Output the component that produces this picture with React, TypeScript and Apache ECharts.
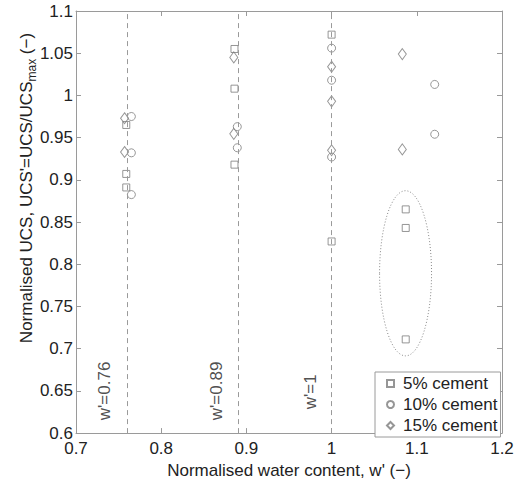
import React, { useEffect, useRef } from "react";
import * as echarts from "echarts";

// 5% cement (squares)
const cement5X = [0.759, 0.759, 0.759, 0.886, 0.886, 0.886, 1.0, 1.0, 1.087, 1.087, 1.087];
const cement5Y = [0.965, 0.907, 0.891, 1.055, 1.008, 0.918, 1.072, 0.827, 0.865, 0.843, 0.711];
// 10% cement (circles)
const cement10X = [0.765, 0.765, 0.765, 0.8893, 0.8893, 1.0, 1.0, 1.0, 1.121, 1.121];
const cement10Y = [0.975, 0.932, 0.8825, 0.963, 0.938, 1.056, 1.018, 0.927, 1.013, 0.954];
// 15% cement (diamonds)
const cement15X = [0.757, 0.757, 0.8852, 0.8852, 1.0, 1.0, 1.0, 1.083, 1.083];
const cement15Y = [0.973, 0.933, 1.045, 0.9545, 1.034, 0.993, 0.935, 1.049, 0.936];

// reference lines w'
const refLinesX = [0.759, 0.886, 1.0];
const refLabels = ["w'=0.76", "w'=0.89", "w'=1"];
const refLabelX = [0.734, 0.865, 0.9755];
const refLabelY = [0.65, 0.65, 0.649];

// ellipse highlighting outliers: centre and semi-axes (data units)
const ellipseCenter = [1.0868, 0.7893];
const ellipseRadii = [0.0305, 0.0978];

const xTicks = { min: 0.7, max: 1.2, interval: 0.1 };
const yTicks = { min: 0.6, max: 1.1, interval: 0.05 };

const FONT = "Liberation Sans";
const MARK = "#7c7c7c";
const AXIS = "#9a9a9a";
const TEXT = "#222";

const zip = (xs: number[], ys: number[]) => xs.map((x, i) => [x, ys[i]]);

export default function App() {
  const ref = useRef<HTMLDivElement>(null);
  useEffect(() => {
    const chart = echarts.init(ref.current!, undefined, { renderer: "svg" });
    const axisCommon = {
      type: "value",
      axisLine: { show: true, lineStyle: { color: AXIS, width: 1 } },
      axisTick: { show: true, inside: true, length: 5, lineStyle: { color: AXIS } },
      splitLine: { show: false },
    };
    const markerStyle = { color: "transparent", borderColor: MARK, borderWidth: 1 };
    chart.setOption({
      animation: false,
      backgroundColor: "#fff",
      textStyle: { fontFamily: FONT },
      grid: { left: 76, right: 23, top: 11, bottom: 47 },
      xAxis: [
        {
          ...axisCommon,
          position: "bottom",
          ...xTicks,
          axisLabel: { fontSize: 17, color: TEXT, fontFamily: FONT, margin: 7 },
          name: "Normalised water content, w' (\u2212)",
          nameLocation: "middle",
          nameGap: 25,
          nameTextStyle: { fontSize: 17, color: TEXT, fontFamily: FONT },
        },
        {
          ...axisCommon,
          position: "top",
          ...xTicks,
          axisLabel: { show: false },
        },
      ],
      yAxis: [
        {
          ...axisCommon,
          position: "left",
          ...yTicks,
          axisLabel: { fontSize: 17, color: TEXT, fontFamily: FONT, margin: 3 },
        },
        {
          ...axisCommon,
          position: "right",
          ...yTicks,
          axisLabel: { show: false },
        },
      ],
      legend: {
        data: ["5% cement", "10% cement", "15% cement"],
        orient: "vertical",
        left: 375,
        top: 372,
        itemWidth: 7,
        itemHeight: 7,
        itemGap: 4,
        padding: [3, 3, 3, 11],
        borderColor: AXIS,
        borderWidth: 1,
        backgroundColor: "#fff",
        textStyle: { fontSize: 17, color: TEXT, fontFamily: FONT, lineHeight: 16, padding: [0, 0, 0, 4] },
      },
      graphic: [
        {
          type: "text",
          x: 26,
          y: 188,
          rotation: Math.PI / 2,
          style: {
            text: "{a|Normalised UCS, UCS'=UCS/UCS}{s|max}{a| (\u2212)}",
            align: "center",
            verticalAlign: "middle",
            rich: {
              a: { fontSize: 17, fontFamily: FONT, fill: TEXT, lineHeight: 24 },
              s: { fontSize: 12, fontFamily: FONT, fill: TEXT, lineHeight: 12, verticalAlign: "bottom" },
            },
          },
        },
      ],
      series: [
        {
          name: "ellipse",
          type: "custom",
          silent: true,
          data: [[ellipseCenter[0], ellipseCenter[1], ellipseRadii[0], ellipseRadii[1]]],
          encode: { x: 0, y: 1 },
          renderItem: (params: any, api: any) => {
            const c = api.coord([api.value(0), api.value(1)]);
            const s = api.size([api.value(2), api.value(3)]);
            return {
              type: "ellipse",
              shape: { cx: c[0], cy: c[1], rx: s[0], ry: s[1] },
              style: { fill: "none", stroke: "#8a8a8a", lineWidth: 1, lineDash: [1, 2] },
            };
          },
          z: 1,
        },
        {
          name: "refLines",
          type: "scatter",
          silent: true,
          data: [],
          markLine: {
            silent: true,
            symbol: "none",
            label: { show: false },
            lineStyle: { color: AXIS, type: [5, 4], width: 1 },
            data: refLinesX.map((x) => ({ xAxis: x })),
          },
        },
        {
          name: "labels",
          type: "scatter",
          silent: true,
          symbolSize: 1,
          itemStyle: { color: "transparent" },
          data: refLabelX.map((x, i) => [x, refLabelY[i], refLabels[i]]),
          label: {
            show: true,
            position: "inside",
            rotate: 90,
            formatter: (p: any) => p.data[2],
            fontSize: 17,
            color: TEXT,
            fontFamily: FONT,
          },
        },
        {
          name: "5% cement",
          type: "scatter",
          symbol: "rect",
          symbolSize: 7,
          itemStyle: markerStyle,
          data: zip(cement5X, cement5Y),
          z: 3,
        },
        {
          name: "10% cement",
          type: "scatter",
          symbol: "circle",
          symbolSize: 8,
          itemStyle: markerStyle,
          data: zip(cement10X, cement10Y),
          z: 3,
        },
        {
          name: "15% cement",
          type: "scatter",
          symbol: "diamond",
          symbolSize: [8, 11],
          itemStyle: markerStyle,
          data: zip(cement15X, cement15Y),
          z: 3,
        },
      ],
    });
    return () => chart.dispose();
  }, []);
  return (
    <div
      ref={ref}
      style={{ position: "fixed", left: 0, top: 0, width: 525, height: 484, background: "#fff" }}
    />
  );
}
